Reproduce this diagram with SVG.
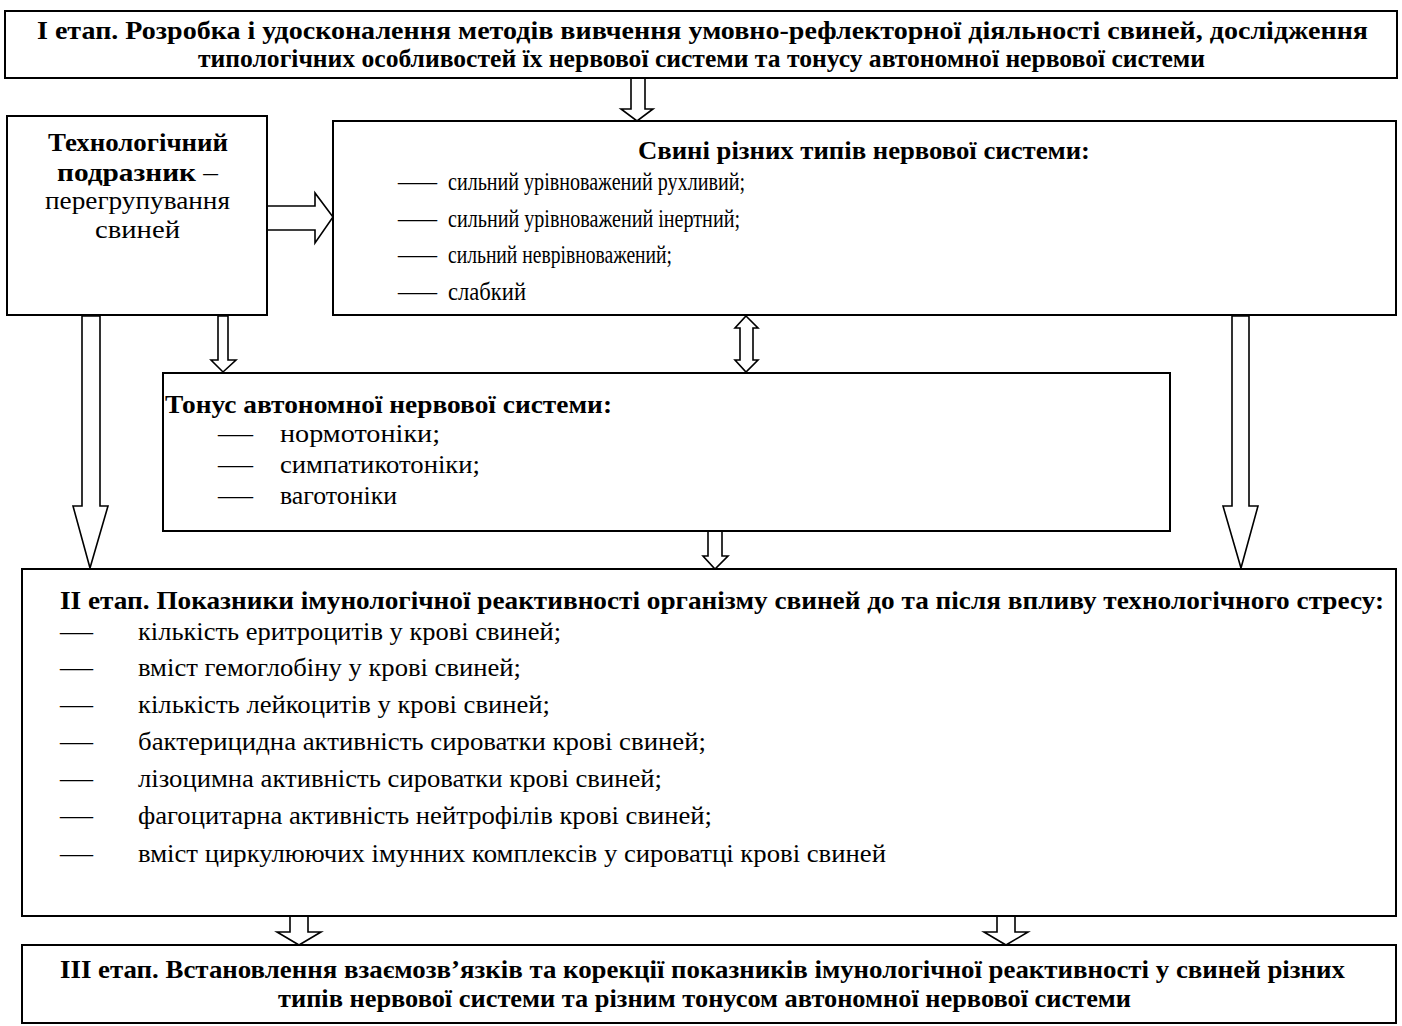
<svg xmlns="http://www.w3.org/2000/svg" width="1402" height="1026" viewBox="0 0 1402 1026">
<style>
.box{fill:#fff;stroke:#000;stroke-width:2}
.arr{fill:#fff;stroke:#000;stroke-width:1.6;stroke-linejoin:miter}
.t{font-family:"Liberation Serif","Times New Roman",serif;font-size:26px;fill:#000}
.b{font-weight:bold}
</style>
<rect width="1402" height="1026" fill="#fff"/>
<g id="connectors">
<polygon class="arr" points="631,78 645,78 645,109 653,109 637,121 621,109 631,109"/>
<polygon class="arr" points="262,206 315,206 315,193 333,217 315,243 315,230 262,230"/>
<polygon class="arr" points="82,316 100,316 100,506 108,506 90,568 73,506 82,506"/>
<polygon class="arr" points="218,316 228,316 228,360 236,360 223,372 211,360 218,360"/>
<polygon class="arr" points="746,316 758,328 753,328 753,360 758,360 746,372 735,360 740,360 740,328 735,328"/>
<polygon class="arr" points="1232,316 1249,316 1249,506 1258,506 1241,568 1223,506 1232,506"/>
<polygon class="arr" points="708,531 722,531 722,556 728,556 715,569 703,556 708,556"/>
<polygon class="arr" points="290,916 308,916 308,932 321,932 299,945 277,932 290,932"/>
<polygon class="arr" points="997,916 1015,916 1015,932 1028,932 1006,945 984,932 997,932"/>
</g>
<g id="stage1" class="t">
<rect class="box" x="5" y="11" width="1392" height="67"/>
<text class="b" x="37" y="39" textLength="1331" lengthAdjust="spacingAndGlyphs">I етап. Розробка і удосконалення методів вивчення умовно-рефлекторної діяльності свиней, дослідження</text>
<text class="b" x="198" y="67" textLength="1007" lengthAdjust="spacingAndGlyphs">типологічних особливостей їх нервової системи та тонусу автономної нервової системи</text>
</g>
<g id="stimulus" class="t">
<rect class="box" x="7" y="116" width="260" height="199"/>
<text class="b" x="48" y="151" textLength="180" lengthAdjust="spacingAndGlyphs">Технологічний</text>
<text x="57" y="181" textLength="161" lengthAdjust="spacingAndGlyphs"><tspan class="b">подразник</tspan> –</text>
<text x="45" y="209" textLength="185" lengthAdjust="spacingAndGlyphs">перегрупування</text>
<text x="95" y="238" textLength="85" lengthAdjust="spacingAndGlyphs">свиней</text>
</g>
<g id="types" class="t">
<rect class="box" x="333" y="121" width="1063" height="194"/>
<text class="b" x="638" y="159" textLength="452" lengthAdjust="spacingAndGlyphs">Свині різних типів нервової системи:</text>
<text x="398" y="190" textLength="39" lengthAdjust="spacingAndGlyphs">—</text>
<text x="448" y="190" textLength="297" lengthAdjust="spacingAndGlyphs">сильний урівноважений рухливий;</text>
<text x="398" y="227" textLength="39" lengthAdjust="spacingAndGlyphs">—</text>
<text x="448" y="227" textLength="292" lengthAdjust="spacingAndGlyphs">сильний урівноважений інертний;</text>
<text x="398" y="263" textLength="39" lengthAdjust="spacingAndGlyphs">—</text>
<text x="448" y="263" textLength="224" lengthAdjust="spacingAndGlyphs">сильний неврівноважений;</text>
<text x="398" y="300" textLength="39" lengthAdjust="spacingAndGlyphs">—</text>
<text x="448" y="300" textLength="78" lengthAdjust="spacingAndGlyphs">слабкий</text>
</g>
<g id="tonus" class="t">
<rect class="box" x="163" y="373" width="1007" height="158"/>
<text class="b" x="165" y="413" textLength="447" lengthAdjust="spacingAndGlyphs">Тонус автономної нервової системи:</text>
<text x="218" y="442" textLength="35" lengthAdjust="spacingAndGlyphs">—</text>
<text x="280" y="442" textLength="160" lengthAdjust="spacingAndGlyphs">нормотоніки;</text>
<text x="218" y="473" textLength="35" lengthAdjust="spacingAndGlyphs">—</text>
<text x="280" y="473" textLength="200" lengthAdjust="spacingAndGlyphs">симпатикотоніки;</text>
<text x="218" y="504" textLength="35" lengthAdjust="spacingAndGlyphs">—</text>
<text x="280" y="504" textLength="117" lengthAdjust="spacingAndGlyphs">ваготоніки</text>
</g>
<g id="stage2" class="t">
<rect class="box" x="22" y="569" width="1374" height="347"/>
<text class="b" x="60" y="609" textLength="1324" lengthAdjust="spacingAndGlyphs">II етап. Показники імунологічної реактивності організму свиней до та після впливу технологічного стресу:</text>
<text x="60" y="640" textLength="33" lengthAdjust="spacingAndGlyphs">—</text>
<text x="138" y="640" textLength="423" lengthAdjust="spacingAndGlyphs">кількість еритроцитів у крові свиней;</text>
<text x="60" y="676" textLength="33" lengthAdjust="spacingAndGlyphs">—</text>
<text x="138" y="676" textLength="383" lengthAdjust="spacingAndGlyphs">вміст гемоглобіну у крові свиней;</text>
<text x="60" y="713" textLength="33" lengthAdjust="spacingAndGlyphs">—</text>
<text x="138" y="713" textLength="412" lengthAdjust="spacingAndGlyphs">кількість лейкоцитів у крові свиней;</text>
<text x="60" y="750" textLength="33" lengthAdjust="spacingAndGlyphs">—</text>
<text x="138" y="750" textLength="568" lengthAdjust="spacingAndGlyphs">бактерицидна активність сироватки крові свиней;</text>
<text x="60" y="787" textLength="33" lengthAdjust="spacingAndGlyphs">—</text>
<text x="138" y="787" textLength="524" lengthAdjust="spacingAndGlyphs">лізоцимна активність сироватки крові свиней;</text>
<text x="60" y="824" textLength="33" lengthAdjust="spacingAndGlyphs">—</text>
<text x="138" y="824" textLength="574" lengthAdjust="spacingAndGlyphs">фагоцитарна активність нейтрофілів крові свиней;</text>
<text x="60" y="862" textLength="33" lengthAdjust="spacingAndGlyphs">—</text>
<text x="138" y="862" textLength="748" lengthAdjust="spacingAndGlyphs">вміст циркулюючих імунних комплексів у сироватці крові свиней</text>
</g>
<g id="stage3" class="t">
<rect class="box" x="22" y="945" width="1374" height="78"/>
<text class="b" x="60" y="978" textLength="1285" lengthAdjust="spacingAndGlyphs">III етап. Встановлення взаємозв’язків та корекції показників імунологічної реактивності у свиней різних</text>
<text class="b" x="278" y="1007" textLength="853" lengthAdjust="spacingAndGlyphs">типів нервової системи та різним тонусом автономної нервової системи</text>
</g>
</svg>
